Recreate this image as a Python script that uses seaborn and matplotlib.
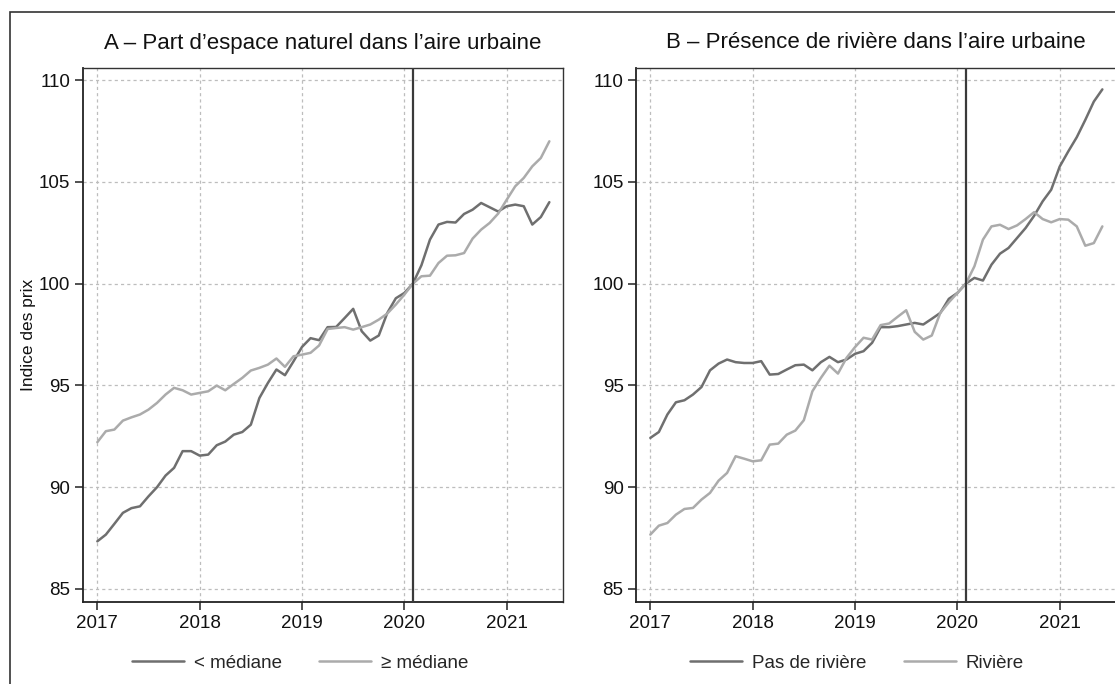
import numpy as np
import pandas as pd
import matplotlib
matplotlib.use("Agg")
import matplotlib.pyplot as plt
from matplotlib.patches import Rectangle
from matplotlib.lines import Line2D
import seaborn as sns

# Monthly price index, January 2017 to June 2021 (base 100 = February 2020)
start_year = 2017
n_months = 54

sous_mediane = [87.34, 87.67, 88.2, 88.74, 88.97, 89.06, 89.55, 90.0, 90.57, 90.95,
                91.77, 91.77, 91.55, 91.6, 92.06, 92.24, 92.58, 92.71, 93.07, 94.38,
                95.12, 95.78, 95.5, 96.18, 96.89, 97.32, 97.22, 97.86, 97.87, 98.31,
                98.76, 97.66, 97.2, 97.45, 98.56, 99.28, 99.54, 100.0, 100.9, 102.16,
                102.9, 103.03, 103.0, 103.42, 103.63, 103.96, 103.75, 103.54, 103.8, 103.88,
                103.8, 102.9, 103.27, 104.0]
sur_mediane = [92.21, 92.75, 92.83, 93.27, 93.43, 93.57, 93.81, 94.14, 94.55, 94.88,
               94.76, 94.55, 94.63, 94.71, 94.99, 94.76, 95.07, 95.37, 95.73, 95.86,
               96.02, 96.32, 95.91, 96.43, 96.51, 96.6, 96.96, 97.77, 97.82, 97.86,
               97.74, 97.86, 97.99, 98.23, 98.53, 98.97, 99.46, 100.0, 100.36, 100.39,
               101.01, 101.37, 101.39, 101.5, 102.21, 102.65, 102.98, 103.44, 104.12, 104.78,
               105.19, 105.76, 106.17, 106.99]
pas_riviere = [92.42, 92.71, 93.57, 94.17, 94.27, 94.55, 94.92, 95.74, 96.07, 96.27,
               96.14, 96.1, 96.1, 96.19, 95.53, 95.56, 95.78, 95.99, 96.02, 95.74,
               96.14, 96.4, 96.14, 96.27, 96.55, 96.68, 97.09, 97.86, 97.86, 97.91,
               97.99, 98.07, 97.99, 98.27, 98.56, 99.25, 99.54, 100.0, 100.28, 100.15,
               100.93, 101.47, 101.75, 102.24, 102.73, 103.33, 104.04, 104.61, 105.75, 106.49,
               107.19, 108.04, 108.94, 109.54]
riviere = [87.67, 88.11, 88.24, 88.65, 88.93, 88.98, 89.39, 89.72, 90.32, 90.7,
           91.52, 91.4, 91.27, 91.32, 92.09, 92.14, 92.58, 92.78, 93.29, 94.71,
           95.37, 95.97, 95.58, 96.35, 96.88, 97.34, 97.25, 97.96, 98.04, 98.37,
           98.69, 97.63, 97.25, 97.45, 98.56, 99.08, 99.54, 100.0, 100.85, 102.16,
           102.81, 102.89, 102.68, 102.86, 103.17, 103.51, 103.17, 103.01, 103.17, 103.14,
           102.81, 101.86, 101.99, 102.81]

panel_titles = ["A – Part d’espace naturel dans l’aire urbaine",
                "B – Présence de rivière dans l’aire urbaine"]
labels_a = ["< médiane", "≥ médiane"]
labels_b = ["Pas de rivière", "Rivière"]
year_ticks = [2017, 2018, 2019, 2020, 2021]
y_ticks = [85, 90, 95, 100, 105, 110]
ylabel = "Indice des prix"
reference_month = 2020 + 1 / 12

DARK = "#6f6f6f"
LIGHT = "#ababab"

sns.set_style("white")
plt.rcParams["font.family"] = ["Liberation Sans", "DejaVu Sans"]

t = start_year + np.arange(n_months) / 12


def long_frame(series, names):
    return pd.concat(
        [pd.DataFrame({"date": t, "indice": v, "groupe": n}) for v, n in zip(series, names)],
        ignore_index=True,
    )


df_a = long_frame([sous_mediane, sur_mediane], labels_a)
df_b = long_frame([pas_riviere, riviere], labels_b)

W, H = 1115, 684
fig = plt.figure(figsize=(W / 100, H / 100), dpi=100)

# outer frame around the figure body
fig.patches.append(Rectangle((10 / W, -0.1), 1.2, 1 - 12 / H + 0.1,
                             transform=fig.transFigure, fill=False,
                             edgecolor="#333333", linewidth=1.2))

ax_w = 480 / W
ax_h = 534 / H
ax_bottom = 1 - 602 / H
axes = [fig.add_axes([83 / W, ax_bottom, ax_w, ax_h]),
        fig.add_axes([636 / W, ax_bottom, ax_w, ax_h])]
legend_x = [0.067, 0.078]

for ax, df, names, title, lx in zip(axes, [df_a, df_b], [labels_a, labels_b],
                                    panel_titles, legend_x):
    sns.lineplot(data=df, x="date", y="indice", hue="groupe", hue_order=names,
                 palette=[DARK, LIGHT], linewidth=1.8, ax=ax, legend=False)
    ax.axvline(reference_month, color="#3a3a3a", linewidth=1.6, zorder=3)
    ax.set_xlim(2016.86, 2021.55)
    ax.set_ylim(84.36, 110.59)
    ax.set_xticks(year_ticks)
    ax.set_yticks(y_ticks)
    ax.set_xticklabels([str(y) for y in year_ticks])
    ax.grid(True, color="#bdbdbd", linestyle=(0, (2.5, 2.5)), linewidth=0.9)
    ax.tick_params(axis="both", direction="out", length=6, width=1.1, color="#222222",
                   labelsize=13.5, labelcolor="#111111", pad=3, bottom=True, left=True)
    for side in ["left", "bottom"]:
        ax.spines[side].set_color("#222222")
        ax.spines[side].set_linewidth(1.3)
    for side in ["top", "right"]:
        ax.spines[side].set_color("#333333")
        ax.spines[side].set_linewidth(1.0)
    ax.set_xlabel("")
    ax.set_ylabel("")
    ax.text(0.5, 1 + 25 / 534, title, transform=ax.transAxes, ha="center", va="center",
            fontsize=16, color="#111111")
    handles = [Line2D([0], [0], color=c, linewidth=1.8) for c in [DARK, LIGHT]]
    ax.legend(handles, names, loc="center left", bbox_to_anchor=(lx, -0.115), ncol=2,
              frameon=False, fontsize=13.5, handlelength=2.75, handletextpad=0.55,
              columnspacing=2.0)

axes[0].set_ylabel(ylabel, fontsize=12.5, color="#111111")
axes[0].yaxis.set_label_coords(-47 / 480, 0.5)

fig.savefig("out.png", dpi=100)
